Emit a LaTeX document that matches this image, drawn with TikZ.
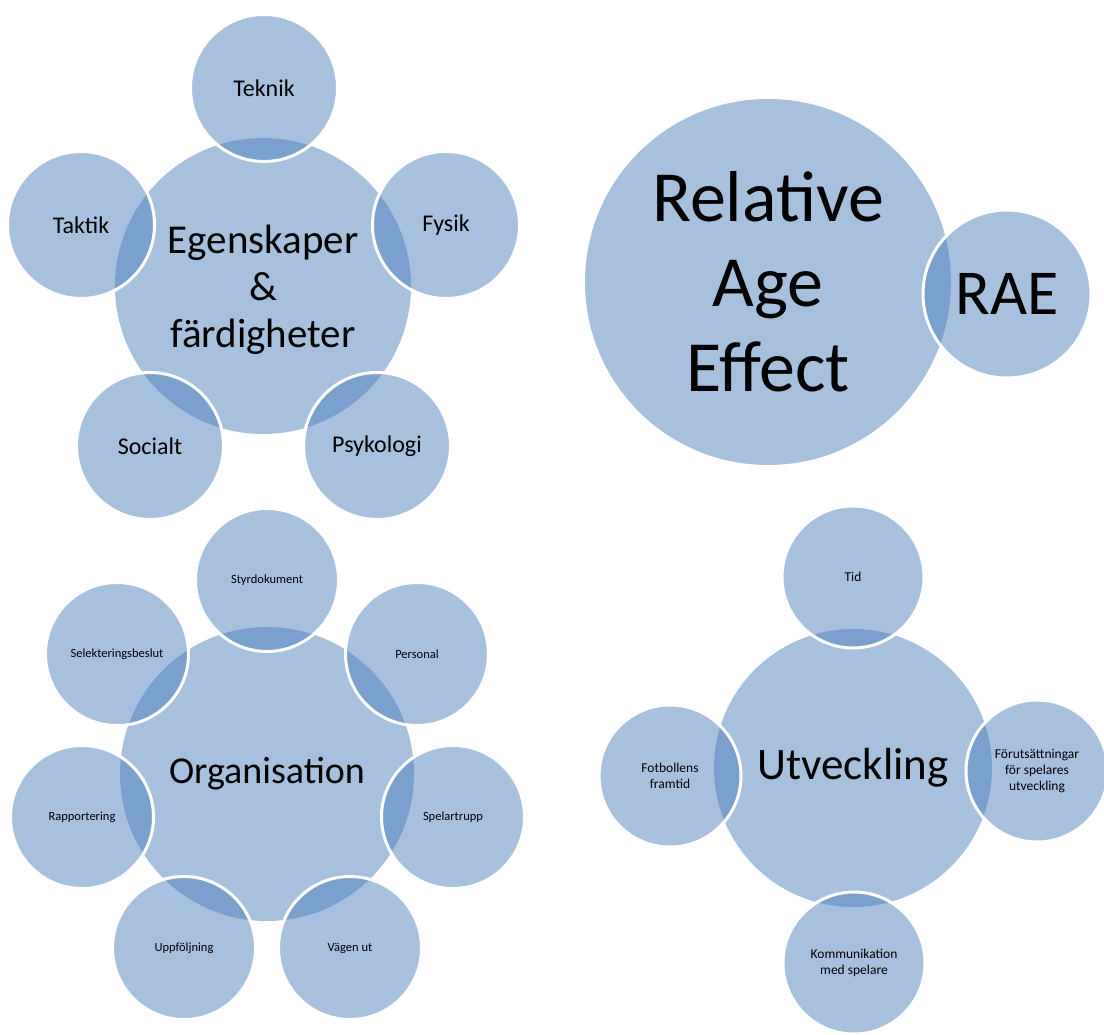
\documentclass[tikz,border=0pt]{standalone}
\usepackage{fontspec}
\setmainfont{Carlito}
\definecolor{venn}{RGB}{79,129,189}

\tikzset{
  hub/.style={circle,fill=venn,fill opacity=0.5,text opacity=1,inner sep=0pt,align=center},
  sat/.style={circle,fill=venn,fill opacity=0.5,text opacity=1,draw=white,line width=3pt,inner sep=0pt,align=center},
}

\begin{document}
\begin{tikzpicture}[x=1pt,y=-1pt]
  \useasboundingbox (0,0) rectangle (1104,1035);

  % Egenskaper och fardigheter
  \node[hub,minimum size=296pt,font=\fontsize{41}{47}\selectfont] (egen) at (263,286) {\\[-10pt]Egenskaper\\\&\\färdigheter};
  \node[sat,minimum size=147pt,font=\fontsize{24}{28}\selectfont] (teknik) at (264,88) {Teknik};
  \node[sat,minimum size=147pt,font=\fontsize{24}{28}\selectfont] (fysik) at (446,225) {Fysik};
  \node[sat,minimum size=147pt,font=\fontsize{24}{28}\selectfont] (taktik) at (81,225) {Taktik};
  \node[sat,minimum size=147pt,font=\fontsize{24}{28}\selectfont] (socialt) at (150,446) {Socialt};
  \node[sat,minimum size=147pt,font=\fontsize{24}{28}\selectfont] (psyk) at (377,446) {Psykologi};

  % Relative Age Effect
  \node[hub,minimum size=366pt,font=\fontsize{72}{85}\selectfont] (rae) at (768,282) {Relative\\Age\\Effect};
  \node[sat,minimum size=168pt,font=\fontsize{64}{70}\selectfont] (raek) at (1007,294) {RAE};

  % Organisation
  \node[hub,minimum size=294pt,font=\fontsize{38}{44}\selectfont] (org) at (267,774) {Organisation};
  \node[sat,minimum size=143pt,font=\fontsize{12.5}{15}\selectfont] (styr) at (267,580) {Styrdokument};
  \node[sat,minimum size=143pt,font=\fontsize{12.5}{15}\selectfont] (pers) at (417,654) {Personal};
  \node[sat,minimum size=143pt,font=\fontsize{12.5}{15}\selectfont] (trupp) at (453,817) {Spelartrupp};
  \node[sat,minimum size=143pt,font=\fontsize{12.5}{15}\selectfont] (vagen) at (350,948) {Vägen ut};
  \node[sat,minimum size=143pt,font=\fontsize{12.5}{15}\selectfont] (uppf) at (184,948) {Uppföljning};
  \node[sat,minimum size=143pt,font=\fontsize{12.5}{15}\selectfont] (rapp) at (82,817) {Rapportering};
  \node[sat,minimum size=143pt,font=\fontsize{12.5}{15}\selectfont] (selek) at (117,654) {Selekteringsbeslut};

  % Utveckling
  \node[hub,minimum size=278pt,font=\fontsize{45}{52}\selectfont] (utv) at (853,768) {Utveckling};
  \node[sat,minimum size=142pt,font=\fontsize{13.5}{16}\selectfont] (tid) at (853,577) {Tid};
  \node[sat,minimum size=142pt,font=\fontsize{13.5}{16}\selectfont] (forut) at (1037,771) {Förutsättningar\\för spelares\\utveckling};
  \node[sat,minimum size=142pt,font=\fontsize{13.5}{16}\selectfont] (komm) at (854,963) {Kommunikation\\med spelare};
  \node[sat,minimum size=142pt,font=\fontsize{13.5}{16}\selectfont] (fotb) at (670,776) {Fotbollens\\framtid};
\end{tikzpicture}
\end{document}
